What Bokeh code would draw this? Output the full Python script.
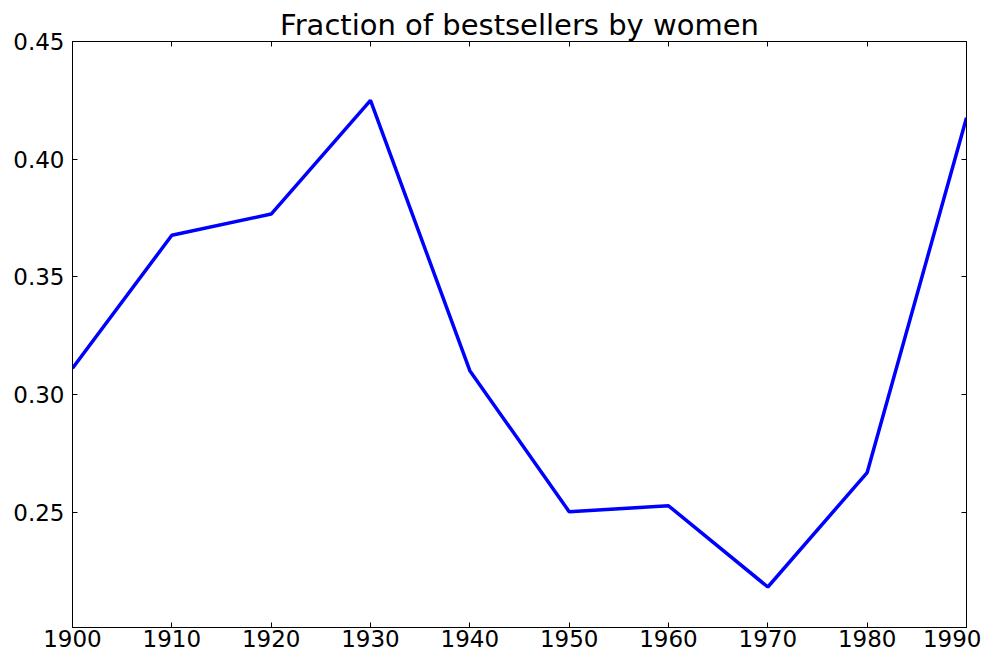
from bokeh.plotting import figure
from bokeh.models import LinearAxis, FixedTicker, Range1d
from bokeh.embed import file_html
from bokeh.resources import INLINE

years = [1900, 1910, 1920, 1930, 1940, 1950, 1960, 1970, 1980, 1990]
fraction = [0.3112, 0.3677, 0.3767, 0.4250, 0.3102, 0.2503, 0.2528, 0.2183, 0.2669, 0.4176]
x_ticks = [1900, 1910, 1920, 1930, 1940, 1950, 1960, 1970, 1980, 1990]
y_ticks = [0.25, 0.30, 0.35, 0.40, 0.45]
y_labels = {0.25: "0.25", 0.30: "0.30", 0.35: "0.35", 0.40: "0.40", 0.45: "0.45"}

FONT = "DejaVu Sans"

p = figure(width=981, height=655, output_backend="svg", toolbar_location=None,
           x_range=Range1d(1900, 1990), y_range=Range1d(0.2011, 0.45),
           x_axis_location=None, y_axis_location=None,
           min_border_left=72, min_border_right=15, min_border_top=41, min_border_bottom=28)

p.title.text = "Fraction of bestsellers by women"
p.title.text_font = FONT
p.title.text_font_size = "29px"
p.title.text_font_style = "normal"
p.title.align = "center"
p.title.text_color = "black"
p.title.standoff = 0

p.grid.visible = False
p.outline_line_color = "black"
p.outline_line_width = 1

def style(ax):
    ax.axis_line_color = "black"
    ax.major_tick_in = 5
    ax.major_tick_out = 0
    ax.minor_tick_in = 0
    ax.minor_tick_out = 0
    ax.major_tick_line_color = "black"
    ax.major_label_text_font = FONT
    ax.major_label_text_font_size = "23px"
    ax.major_label_text_color = "black"

bottom = LinearAxis(ticker=FixedTicker(ticks=x_ticks))
style(bottom)
bottom.major_label_standoff = 2
left = LinearAxis(ticker=FixedTicker(ticks=y_ticks))
left.major_label_overrides = y_labels
style(left)
left.major_label_standoff = 8

top = LinearAxis(ticker=FixedTicker(ticks=x_ticks))
style(top)
top.major_label_overrides = {t: "" for t in x_ticks}
top.major_label_standoff = 0
right = LinearAxis(ticker=FixedTicker(ticks=y_ticks))
style(right)
right.major_label_overrides = {t: "" for t in y_ticks}
right.major_label_standoff = 0

p.add_layout(bottom, "below")
p.add_layout(left, "left")
p.add_layout(top, "above")
p.add_layout(right, "right")

p.line(years, fraction, line_color="blue", line_width=3.5)

open("out.html", "w").write(file_html(p, INLINE))
